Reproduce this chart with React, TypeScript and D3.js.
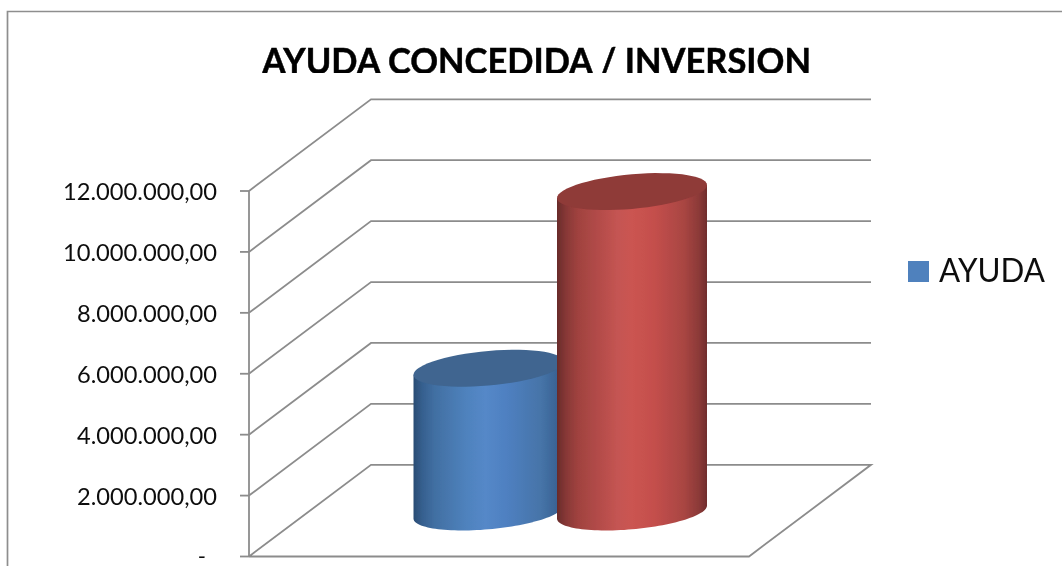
import React from "react";
import * as d3 from "d3";

const categories = ["AYUDA", "INVERSION"];
const values = [4720000, 10520000];
const tickValues = [0, 2000000, 4000000, 6000000, 8000000, 10000000, 12000000];
const tickLabels = ["-", "2.000.000,00", "4.000.000,00", "6.000.000,00", "8.000.000,00", "10.000.000,00", "12.000.000,00"];
const legendLabels = ["AYUDA"];
const titleText = "AYUDA CONCEDIDA / INVERSION";

const sideStops = [
  [["0%", "#2a4c74"], ["6%", "#36608f"], ["14%", "#416fa2"], ["35%", "#4f82bd"], ["48%", "#5488c8"], ["62%", "#4f80c1"], ["85%", "#4674a8"], ["100%", "#345c8c"]],
  [["0%", "#682b2a"], ["6%", "#873836"], ["14%", "#a0423f"], ["40%", "#c45452"], ["50%", "#cb5451"], ["65%", "#c44f4c"], ["85%", "#a84542"], ["95%", "#8a3937"], ["100%", "#702d2c"]],
];
const capColors = ["#3f6590", "#8f3a38"];
const gridColor = "#8c8c8c";

const y = d3.scaleLinear().domain([0, 12000000]).range([556.5, 191]);
const x = d3.scalePoint<string>().domain(categories).range([488.5, 632]);
const depth = { dx: 122, dy: -91.7 };
const wallRight = 871;
const rx = 75, ry = 17.3, shear = 6.5, floorInset = 44.5;
const sample = (from: number, to: number) => d3.range(61).map((i) => from + ((to - from) * i) / 60);
const rim = (cx: number, cy: number, t: number): [number, number] => [cx + rx * Math.cos(t), cy + ry * Math.sin(t) - shear * Math.cos(t)];
const line = d3.line<[number, number]>();
const labelWidth = [0, 140, 140, 140, 140, 154, 154];

export default function App() {
  return (
    <svg width={1062} height={566} style={{ position: "fixed", left: 0, top: 0, background: "#fff" }}>
      <defs>
        <clipPath id="titleClip"><rect x={0} y={0} width={1062} height={73} /></clipPath>
        <filter id="soft" x="-5%" y="-5%" width="110%" height="110%"><feGaussianBlur stdDeviation="0.5" /></filter>
        {sideStops.map((stops, i) => (
          <linearGradient key={i} id={`side${i}`} x1="0" x2="1" y1="0" y2="0">
            {stops.map(([o, c]) => <stop key={o} offset={o} stopColor={c} />)}
          </linearGradient>
        ))}
      </defs>
      <g filter="url(#soft)">
        <path d="M7.5,566V11.5H1062" fill="none" stroke="#8e8e8e" strokeWidth={1.7} />
        <g clipPath="url(#titleClip)">
          <text x={262} y={74} textLength={549} lengthAdjust="spacingAndGlyphs" fontFamily="Lato" fontWeight={700} fontSize={36} fill="#000" stroke="#000" strokeWidth={0.5}>{titleText}</text>
        </g>
        {tickValues.map((v, i) => (
          <g key={v}>
            <path d={`M240,${y(v)}H${249}`} stroke={gridColor} strokeWidth={1.8} fill="none" />
            <path d={i === 0 ? `M249,${y(v)}L${249 + depth.dx},${y(v) + depth.dy}H${wallRight}L${wallRight - depth.dx},${y(v)}H249` : `M249,${y(v)}L${249 + depth.dx},${y(v) + depth.dy}H${wallRight}`} stroke={gridColor} strokeWidth={1.8} fill="none" />
            {i === 0
              ? <text x={206} y={564} textAnchor="end" fontFamily="Lato" fontSize={22} fill="#111">{tickLabels[i]}</text>
              : <text x={217} y={y(v) + 9} textAnchor="end" fontFamily="Lato" fontSize={23} fill="#111" textLength={labelWidth[i]} lengthAdjust="spacingAndGlyphs">{tickLabels[i]}</text>}
          </g>
        ))}
        <path d={`M249,${y(12000000)}V${y(0)}`} stroke={gridColor} strokeWidth={1.8} fill="none" />
        {categories.map((c, i) => {
          const cx = x(c) as number;
          const bottom = y(0) - floorInset;
          const top = y(values[i]) - floorInset;
          const lower = sample(Math.PI, 0).map((t) => rim(cx, bottom, t));
          const side = [rim(cx, top, Math.PI), ...lower, rim(cx, top, 0)];
          const cap = sample(0, Math.PI * 2).map((t) => rim(cx, top, t));
          return (
            <g key={c}>
              <path d={line(side) + "Z"} fill={`url(#side${i})`} />
              <path d={line(cap) + "Z"} fill={capColors[i]} />
            </g>
          );
        })}
        <rect x={908} y={261} width={21} height={21} fill="#4f81bd" />
        <text x={939} y={282} textLength={106} lengthAdjust="spacingAndGlyphs" fontFamily="Lato" fontSize={32} fill="#111">{legendLabels[0]}</text>
      </g>
    </svg>
  );
}
